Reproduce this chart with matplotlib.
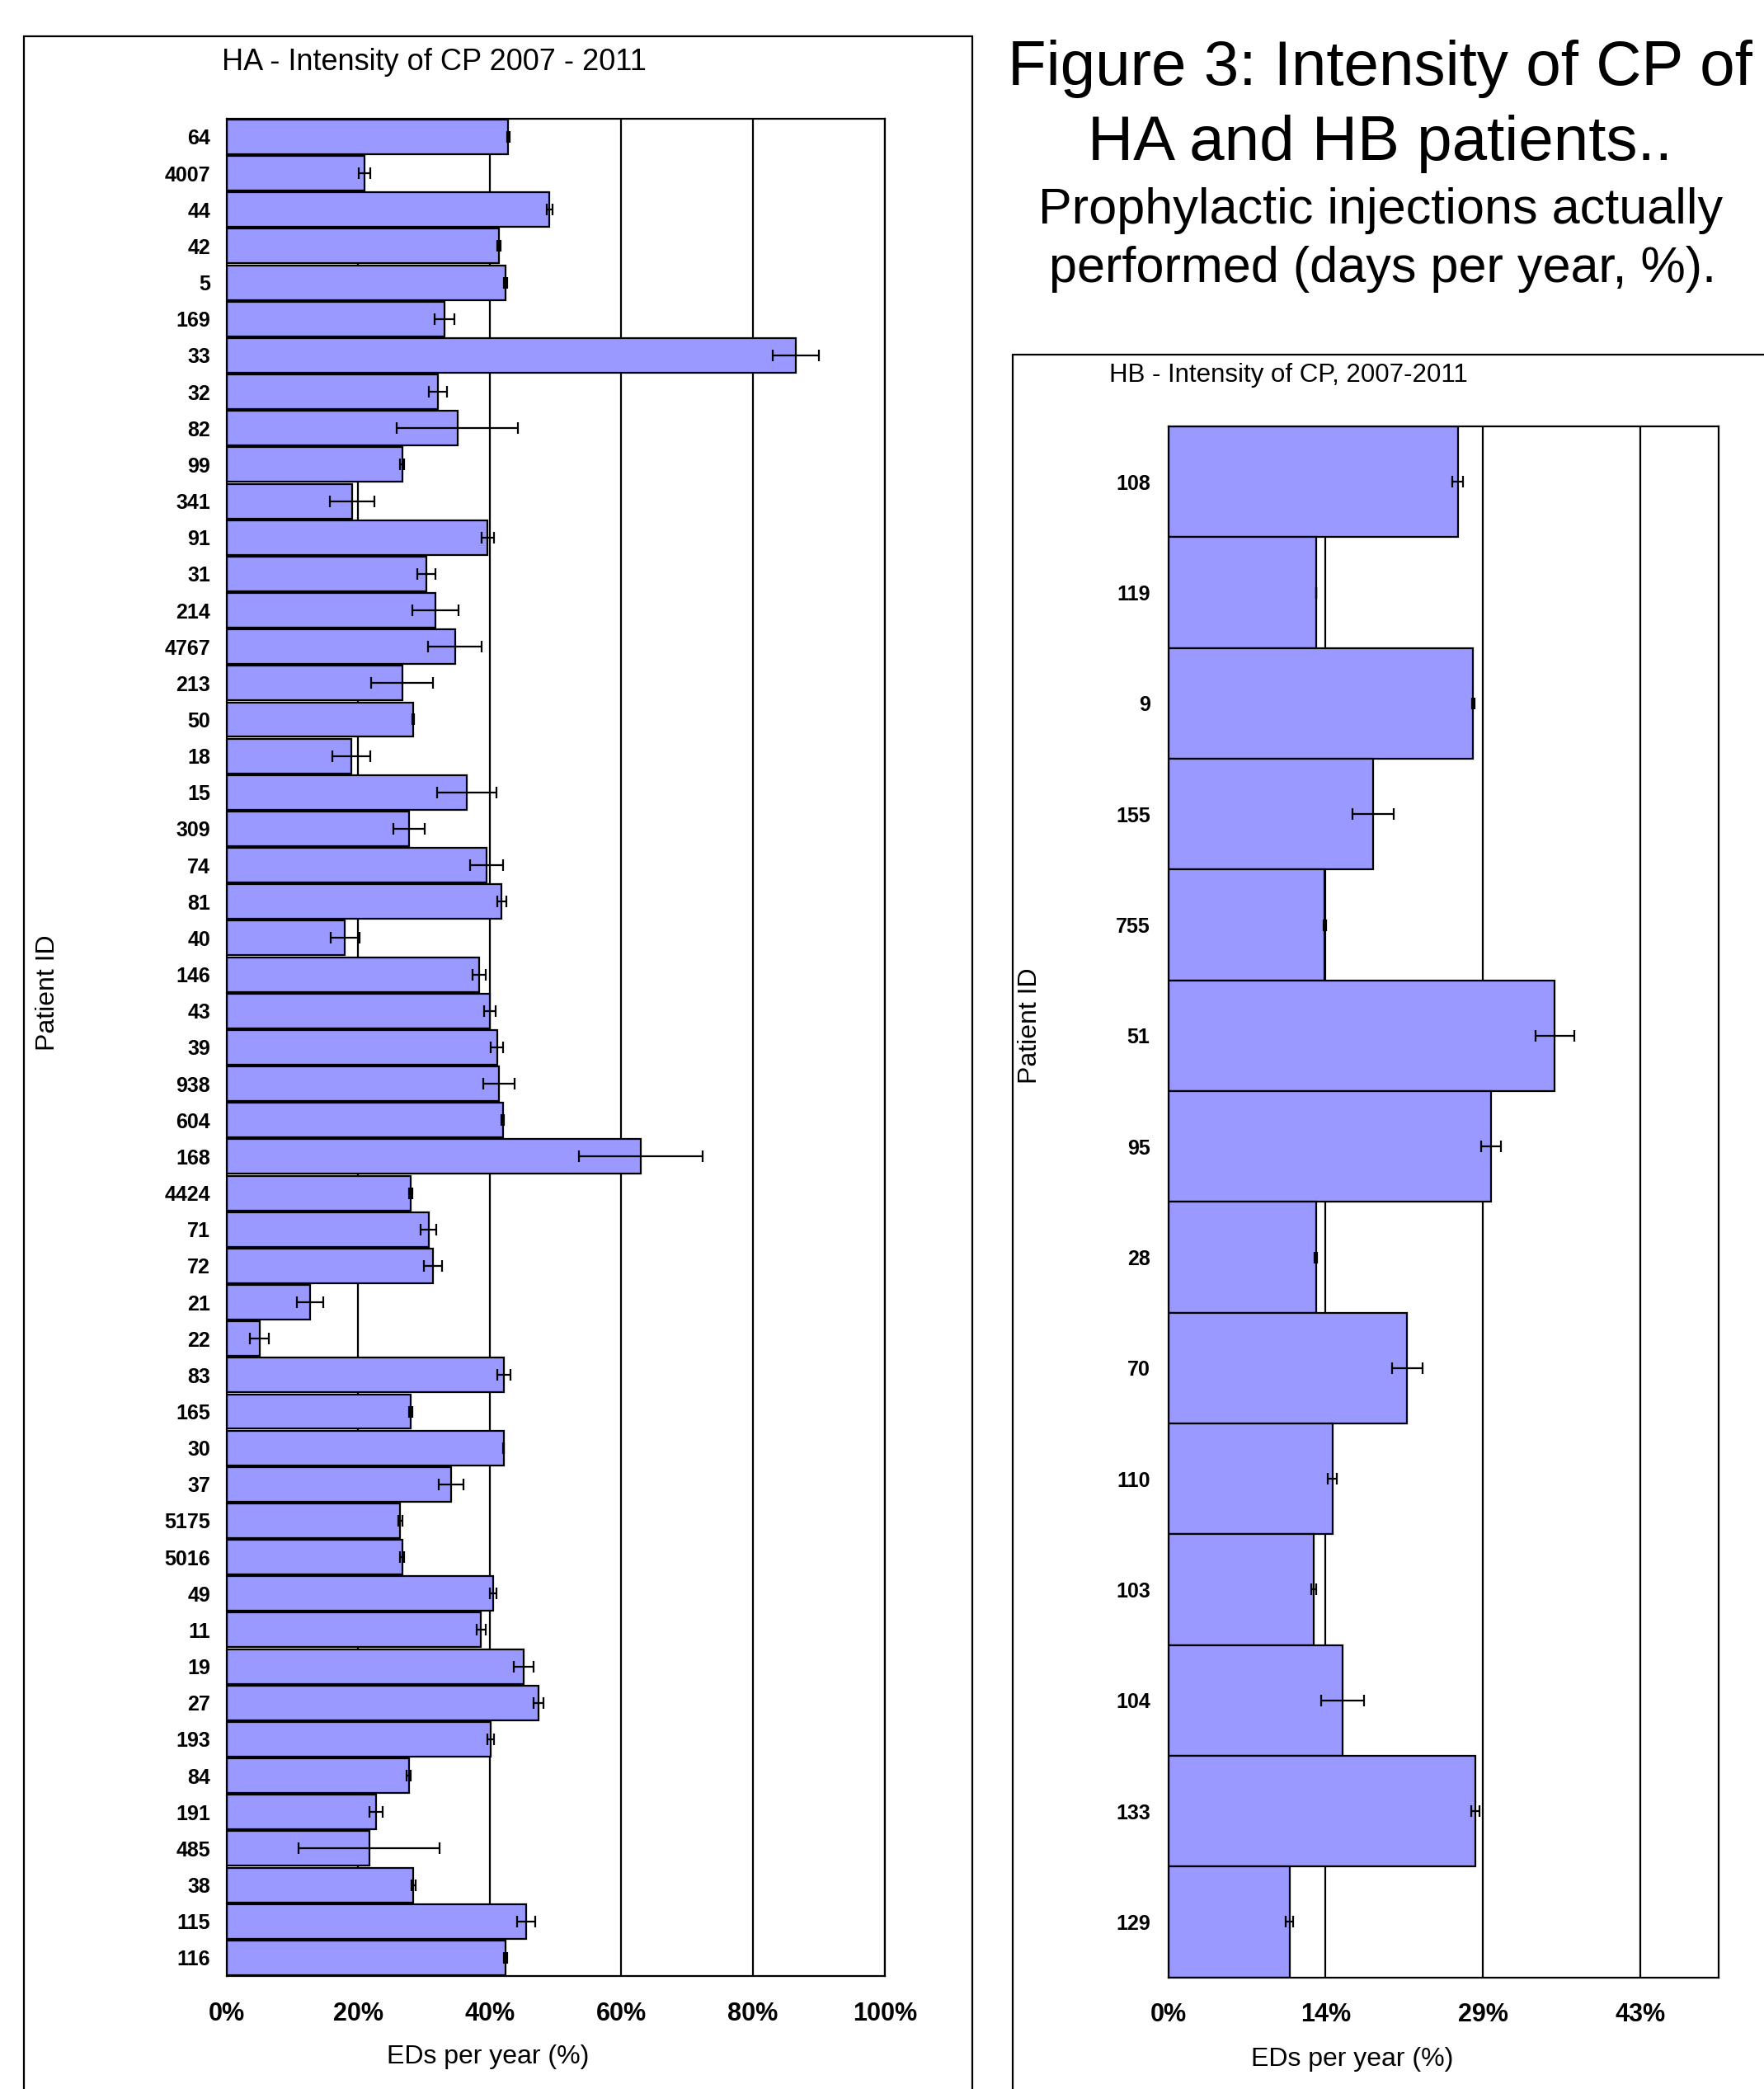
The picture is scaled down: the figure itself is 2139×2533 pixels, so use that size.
import matplotlib
matplotlib.use("Agg")
import matplotlib.pyplot as plt
from matplotlib.patches import Rectangle
import numpy as np

plt.rcParams['font.family'] = ['Liberation Sans', 'DejaVu Sans']

# ---------------- data ----------------
ha_ids = ["64", "4007", "44", "42", "5", "169", "33", "32", "82", "99", "341", "91", "31",
          "214", "4767", "213", "50", "18", "15", "309", "74", "81", "40", "146", "43", "39",
          "938", "604", "168", "4424", "71", "72", "21", "22", "83", "165", "30", "37",
          "5175", "5016", "49", "11", "19", "27", "193", "84", "191", "485", "38", "115", "116"]
ha_vals = [0.428, 0.210, 0.491, 0.414, 0.424, 0.331, 0.865, 0.321, 0.351, 0.267, 0.191, 0.397, 0.304,
           0.317, 0.347, 0.267, 0.284, 0.190, 0.365, 0.277, 0.395, 0.418, 0.180, 0.384, 0.400, 0.411,
           0.414, 0.420, 0.629, 0.280, 0.307, 0.314, 0.127, 0.050, 0.421, 0.280, 0.421, 0.341,
           0.264, 0.267, 0.405, 0.387, 0.451, 0.474, 0.401, 0.277, 0.227, 0.217, 0.284, 0.455, 0.424]
ha_err = [0.002, 0.009, 0.004, 0.002, 0.002, 0.015, 0.035, 0.014, 0.092, 0.003, 0.034, 0.009, 0.014,
          0.035, 0.041, 0.047, 0.001, 0.029, 0.045, 0.024, 0.025, 0.007, 0.022, 0.010, 0.009, 0.009,
          0.024, 0.002, 0.094, 0.003, 0.012, 0.014, 0.020, 0.014, 0.010, 0.003, 0.001, 0.019,
          0.003, 0.003, 0.005, 0.007, 0.015, 0.007, 0.005, 0.003, 0.010, 0.107, 0.003, 0.014, 0.002]
ha_ticks = [0.0, 0.2, 0.4, 0.6, 0.8, 1.0]
ha_ticklabels = ["0%", "20%", "40%", "60%", "80%", "100%"]

hb_ids = ["108", "119", "9", "155", "755", "51", "95", "28", "70", "110", "103", "104", "133", "129"]
hb_vals = [0.263, 0.134, 0.277, 0.186, 0.142, 0.351, 0.293, 0.134, 0.217, 0.149, 0.132, 0.158, 0.279, 0.110]
hb_err = [0.005, 0.0, 0.001, 0.0185, 0.001, 0.0176, 0.0088, 0.001, 0.0136, 0.004, 0.0026, 0.0196, 0.0037, 0.0035]
hb_ticks = [0.0, 1/7, 2/7, 3/7]
hb_ticklabels = ["0%", "14%", "29%", "43%"]

bar_color = "#9999FF"

W, H = 2139, 2533
fig = plt.figure(figsize=(W/100, H/100), dpi=100)

# outer frames
fig.patches.append(Rectangle((0.01357, -0.05), 0.5514-0.01357, 0.9828+0.05, transform=fig.transFigure,
                             fill=False, edgecolor='black', linewidth=1.6, zorder=0))
fig.patches.append(Rectangle((0.574, -0.05), 0.5, 0.8303+0.05, transform=fig.transFigure,
                             fill=False, edgecolor='black', linewidth=1.6, zorder=0))

def draw(ax, ids, vals, errs, ticks, ticklabels, xmax, height, yfont, xfs, ypad, xpad, capsize):
    y = np.arange(len(ids))
    ax.set_axisbelow(True)
    for t in ticks[1:]:
        ax.axvline(t, color='black', linewidth=1.6, zorder=0)
    ax.barh(y, vals, height=height, color=bar_color, edgecolor='black', linewidth=1.6, zorder=2)
    ax.errorbar(vals, y, xerr=errs, fmt='none', ecolor='black', elinewidth=1.6,
                capsize=capsize, capthick=1.6, zorder=3)
    ax.set_xlim(0, xmax)
    ax.set_ylim(len(ids) - 0.5, -0.5)
    ax.set_yticks(y)
    ax.set_yticklabels(ids, **yfont)
    ax.set_xticks(ticks)
    ax.set_xticklabels(ticklabels, fontsize=xfs, fontweight='bold')
    ax.tick_params(axis='y', length=0, pad=ypad)
    ax.tick_params(axis='x', length=0, pad=xpad)
    for s in ax.spines.values():
        s.set_linewidth(1.6)
        s.set_color('black')

axA = fig.add_axes([0.1284, 0.0541, 0.3731, 0.8891])
draw(axA, ha_ids, ha_vals, ha_err, ha_ticks, ha_ticklabels, 1.0, 0.95,
     dict(fontsize=18, fontweight='bold', family=['Liberation Sans Narrow', 'Liberation Sans', 'DejaVu Sans']),
     22, 14, 22, 5)

axB = fig.add_axes([0.6624, 0.05345, 0.3119, 0.7424])
draw(axB, hb_ids, hb_vals, hb_err, hb_ticks, hb_ticklabels, 0.5, 1.0,
     dict(fontsize=18, fontweight='bold'), 22, 16, 22, 5)

# titles and labels
fig.text(0.2462, 0.9700, "HA - Intensity of CP 2007 - 2011", ha='center', va='center', fontsize=26)
fig.text(0.7304, 0.8205, "HB - Intensity of CP, 2007-2011", ha='center', va='center', fontsize=22.5)
fig.text(0.2765, 0.0155, "EDs per year (%)", ha='center', va='center', fontsize=23)
fig.text(0.7666, 0.0143, "EDs per year (%)", ha='center', va='center', fontsize=23)
fig.text(0.0270, 0.5248, "Patient ID", ha='center', va='center', rotation=90, fontsize=23)
fig.text(0.5839, 0.5089, "Patient ID", ha='center', va='center', rotation=90, fontsize=23)

fig.text(0.7825, 0.9670, "Figure 3: Intensity of CP of", ha='center', va='center', fontsize=55)
fig.text(0.7825, 0.9310, "HA and HB patients..", ha='center', va='center', fontsize=55)
fig.text(0.7825, 0.8990, "Prophylactic injections actually", ha='center', va='center', fontsize=44)
fig.text(0.7840, 0.8712, "performed (days per year, %).", ha='center', va='center', fontsize=44)

fig.savefig("out.png", dpi=100)
